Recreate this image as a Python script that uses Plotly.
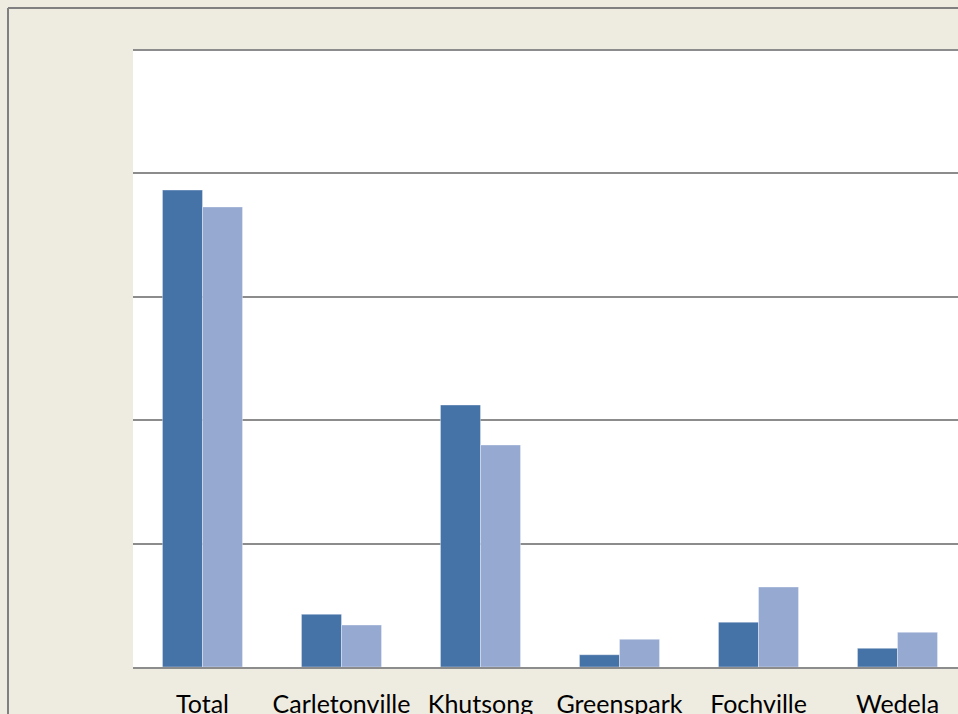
import plotly.graph_objects as go

categories = ["Total", "Carletonville", "Khutsong", "Greenspark", "Fochville", "Wedela"]
series_a = [38650, 4270, 21230, 990, 3630, 1510]
series_b = [37280, 3400, 17990, 2240, 6480, 2810]

W, H = 958, 714
L, R, T, B = 133, 0, 50, 47
plot_w = W - L - R
plot_h = H - T - B

fig = go.Figure()
fig.add_trace(go.Bar(x=categories, y=series_a, name="Series 1",
                     marker=dict(color="#4572A7", line=dict(color="rgba(255,255,255,0.35)", width=1))))
fig.add_trace(go.Bar(x=categories, y=series_b, name="Series 2",
                     marker=dict(color="#95A9D1", line=dict(color="rgba(255,255,255,0.35)", width=1))))

# outer chart border (top and left edges visible)
bx = (8 - L) / plot_w
by = (H - B - 8) / plot_h
fig.add_shape(type="line", xref="paper", yref="paper", x0=bx, x1=1.2, y0=by, y1=by,
              line=dict(color="#808080", width=2), layer="above")
fig.add_shape(type="line", xref="paper", yref="paper", x0=bx, x1=bx, y0=by, y1=-0.2,
              line=dict(color="#808080", width=2), layer="above")
# top gridline at the edge of the plot area
fig.add_shape(type="line", xref="paper", yref="paper", x0=0, x1=1, y0=1, y1=1,
              line=dict(color="#8C8C8C", width=2), layer="below")

fig.update_layout(
    width=W, height=H,
    margin=dict(l=L, r=R, t=T, b=B, pad=0, autoexpand=False),
    paper_bgcolor="#EEEBE0",
    plot_bgcolor="#FFFFFF",
    barmode="group",
    bargap=0.424,
    bargroupgap=0,
    showlegend=False,
    font=dict(family="Lato, Liberation Sans, sans-serif", color="#000000"),
)
fig.update_xaxes(range=[-0.5, (plot_w / 139.0) - 0.5], showgrid=False, automargin=False,
                 showline=True, linecolor="#8C8C8C", linewidth=2,
                 ticks="", tickfont=dict(size=25), ticklabelstandoff=14)
fig.update_yaxes(range=[0, 50000], dtick=10000, showgrid=True, gridcolor="#8C8C8C", gridwidth=2,
                 automargin=False, showticklabels=False, zeroline=False, showline=False, ticks="")

fig.write_html("out.html", config={"displayModeBar": False})

with open("out.html", "r", encoding="utf-8") as f:
    html = f.read()
html = html.replace("<head>", "<head><style>html,body{margin:0;padding:0;overflow:hidden;}</style>", 1)
with open("out.html", "w", encoding="utf-8") as f:
    f.write(html)
